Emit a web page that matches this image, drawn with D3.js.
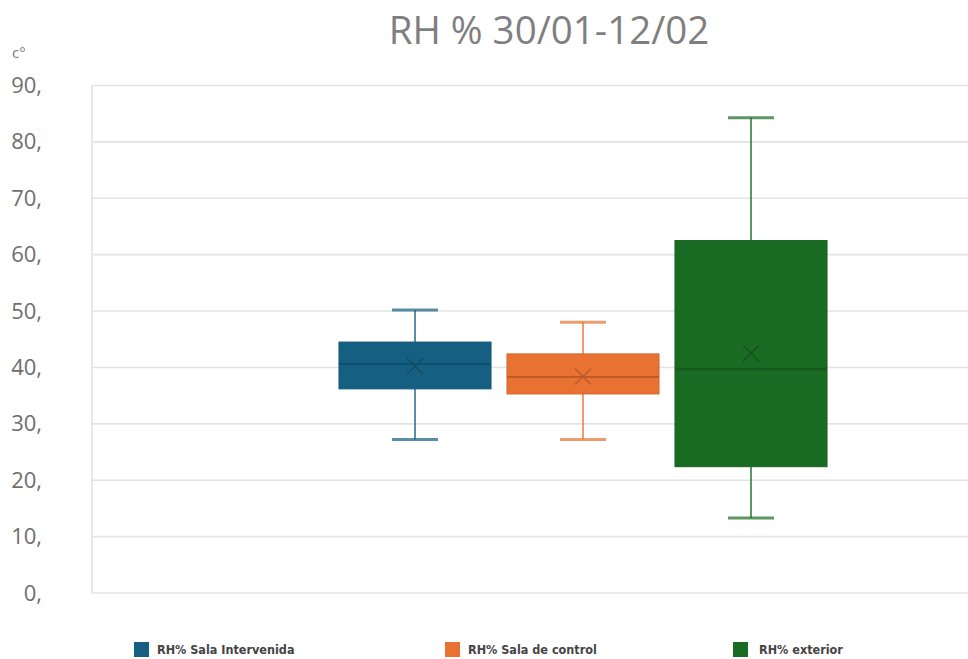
<!DOCTYPE html>
<html><head><meta charset="utf-8">
<script src="https://cdn.jsdelivr.net/npm/d3@7"></script>
<style>html,body{margin:0;padding:0;background:#fff;}svg{display:block;}</style>
</head><body>
<svg id="chart" width="968" height="659"></svg>
<script>
const titleText = "RH % 30/01-12/02";
const unitLabel = "c°";
const series = ["RH% Sala Intervenida", "RH% Sala de control", "RH% exterior"];
const colors = ["#156082", "#E97132", "#196B24"];
const whiskerMin = [27.2, 27.2, 13.3];
const q1 = [36.2, 35.3, 22.4];
const median = [40.6, 38.3, 39.7];
const q3 = [44.5, 42.4, 62.5];
const whiskerMax = [50.2, 48.0, 84.3];
const mean = [40.2, 38.4, 42.5];
const yTicks = [0, 10, 20, 30, 40, 50, 60, 70, 80, 90];

(function () {
const svg = d3.select("#chart");
const pLeft = 92, pRight = 968, pTop = 85.5, pBottom = 593;
const y = d3.scaleLinear().domain([0, 90]).range([pBottom, pTop]);
const x = d3.scaleBand().domain(series).range([331, 835]).paddingInner(0.095).paddingOuter(0.0475);

svg.append("g").selectAll("line").data(yTicks).join("line")
  .attr("x1", pLeft).attr("x2", pRight)
  .attr("y1", d => y(d)).attr("y2", d => y(d))
  .attr("stroke", "#e3e3e3").attr("stroke-width", 1.6);
svg.append("line").attr("x1", pLeft).attr("x2", pLeft).attr("y1", pTop).attr("y2", pBottom)
  .attr("stroke", "#e3e3e3").attr("stroke-width", 1.6);

svg.append("g").selectAll("text").data(yTicks).join("text")
  .attr("x", 42).attr("y", d => y(d) + 7.5)
  .attr("text-anchor", "end")
  .attr("font-family", "Open Sans, Liberation Sans, sans-serif")
  .attr("font-size", 22).attr("fill", "#6e6e6e")
  .text(d => d + ",");
svg.append("text").attr("x", 12).attr("y", 58)
  .attr("font-family", "Open Sans, Liberation Sans, sans-serif")
  .attr("font-size", 15).attr("fill", "#7a7a7a").text(unitLabel);

svg.append("text").attr("x", 549).attr("y", 44).attr("text-anchor", "middle")
  .attr("font-family", "Open Sans, Liberation Sans, sans-serif")
  .attr("font-size", 38.5).attr("fill", "#7f7f7f").text(titleText);

const g = svg.append("g").selectAll("g").data(series).join("g");
g.each(function(s, i) {
  const el = d3.select(this);
  const x0 = x(s), w = x.bandwidth(), cx = x0 + w / 2;
  const c = colors[i];
  const capW = 46;
  el.append("line").attr("x1", cx).attr("x2", cx).attr("y1", y(whiskerMax[i])).attr("y2", y(q3[i]))
    .attr("stroke", c).attr("stroke-width", 2).attr("stroke-opacity", 0.7);
  el.append("line").attr("x1", cx).attr("x2", cx).attr("y1", y(q1[i])).attr("y2", y(whiskerMin[i]))
    .attr("stroke", c).attr("stroke-width", 2).attr("stroke-opacity", 0.7);
  [whiskerMax[i], whiskerMin[i]].forEach(v => {
    el.append("line").attr("x1", cx - capW / 2).attr("x2", cx + capW / 2).attr("y1", y(v)).attr("y2", y(v))
      .attr("stroke", c).attr("stroke-width", 3).attr("stroke-opacity", 0.7);
  });
  el.append("rect").attr("x", x0).attr("y", y(q3[i])).attr("width", w).attr("height", y(q1[i]) - y(q3[i]))
    .attr("fill", c).attr("stroke", d3.color(c).darker(0.3)).attr("stroke-width", 1);
  el.append("line").attr("x1", x0).attr("x2", x0 + w).attr("y1", y(median[i])).attr("y2", y(median[i]))
    .attr("stroke", d3.color(c).darker(0.6)).attr("stroke-width", 2);
  const m = y(mean[i]), r = 8;
  el.append("path").attr("d", `M${cx - r},${m - r}L${cx + r},${m + r}M${cx - r},${m + r}L${cx + r},${m - r}`)
    .attr("stroke", d3.color(c).darker(0.6)).attr("stroke-width", 1.6).attr("fill", "none");
});

const legX = [134, 445, 733];
const lg = svg.append("g").selectAll("g").data(series).join("g")
  .attr("transform", (d, i) => `translate(${legX[i]},642)`);
lg.append("rect").attr("width", 15).attr("height", 15).attr("fill", (d, i) => colors[i]);
lg.append("text").attr("x", (d, i) => i === 2 ? 26 : 23).attr("y", 12)
  .attr("font-family", "Liberation Sans Narrow, DejaVu Sans Condensed, sans-serif")
  .attr("font-size", 12.5).attr("font-weight", "bold").attr("fill", "#444")
  .text(d => d);
})();
</script>
</body></html>
